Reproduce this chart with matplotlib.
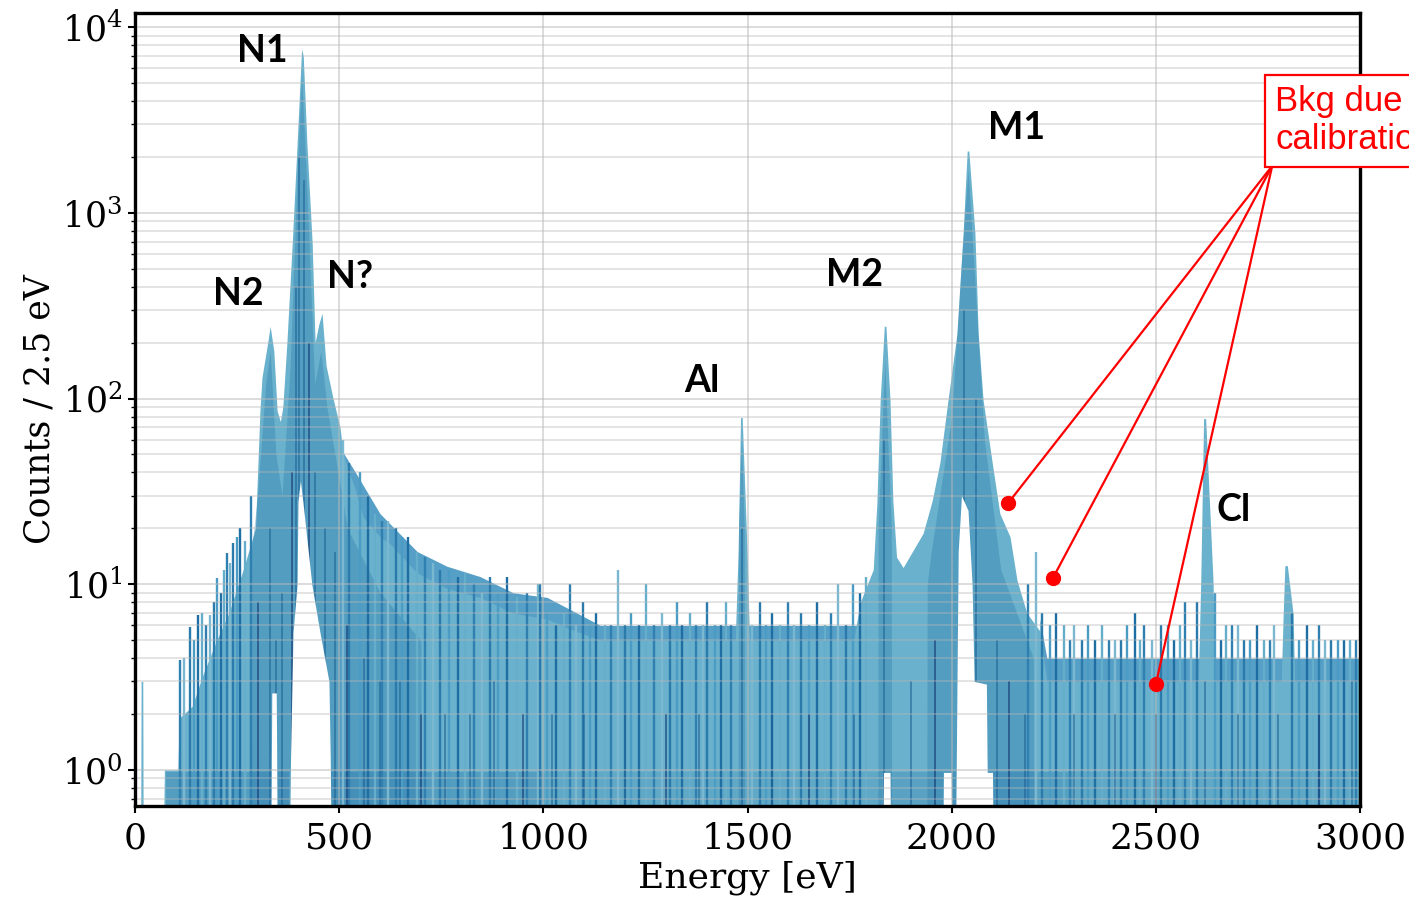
import matplotlib
matplotlib.use("Agg")
import matplotlib.pyplot as plt
from matplotlib.ticker import LogLocator, NullFormatter, MultipleLocator

YMIN = 0.5  # floor for the filled spectra (below the visible range)

# dense part of the overlaid spectra: energy [eV] vs counts / 2.5 eV
env_x = [0, 14, 15, 19, 20, 70, 72, 105, 108, 140, 165, 200, 230, 265, 295,
         306, 311, 325, 331, 340, 348, 356, 362, 372, 385, 397, 408, 412,
         421, 434, 441, 450, 458, 468, 485, 502, 510, 540, 559, 600, 625,
         691, 764, 845, 926, 1009, 1060, 1140, 1470, 1477, 1483, 1487, 1499,
         1505, 1760, 1776, 1808, 1817, 1825, 1835, 1839, 1849, 1856, 1865,
         1881, 1930, 1952, 1971, 1991, 2013, 2028, 2038, 2042, 2057, 2065,
         2077, 2101, 2118, 2143, 2160, 2184, 2216, 2233, 2604, 2610, 2617,
         2622, 2640, 2646, 2807, 2812, 2816, 2822, 2836, 2840, 3000]
env_top = [0.5, 0.5, 3, 3, 0.5, 0.5, 1.0, 1.0, 1.9, 2.2, 3.2, 5, 7, 12, 20,
           86, 130, 200, 245, 180, 86, 75, 90, 200, 680, 2350, 7600, 7000,
           2350, 680, 200, 250, 288, 150, 100, 70, 50, 32, 23, 18, 16.5,
           11.5, 9.5, 8.5, 7, 6.5, 5.8, 5, 5, 15, 79, 79, 15,
           5, 5, 8, 12, 28, 98, 245, 245, 98, 28, 14,
           12.3, 18.8, 28, 45, 98, 224, 776, 2150, 2150, 776, 224,
           98, 42.5, 24, 18, 10.5, 7, 5.6, 3, 3, 10.5, 78,
           78, 10.5, 3, 3, 7, 12.6, 12.6, 7, 3, 3]

# the next count level, mostly but not fully covered
shoulder_a_x = [489, 490, 540, 600, 691, 764, 845, 926, 1009, 1140, 1770, 1771]
shoulder_a_top = [0.5, 60, 40, 24, 15, 12.5, 11, 9, 8.5, 6, 6, 0.5]
shoulder_b_x = [2215, 2216, 2233, 3000]
shoulder_b_top = [0.5, 6.5, 4, 4]

# darker cores of the peaks
core_x = [279, 280, 300, 320, 331, 345, 360, 380, 395, 408, 420, 440, 455,
          470, 520, 600, 700, 701,
          1477, 1478, 1485, 1492, 1493,
          1819, 1820, 1836, 1852, 1853,
          1939, 1940, 1950, 2000, 2025, 2040, 2055, 2080, 2120, 2200, 2201]
core_top = [0.5, 12, 30, 120, 180, 50, 30, 150, 1200, 5500, 1500, 120, 180,
            90, 20, 9, 5, 0.5,
            0.5, 20, 60, 20, 0.5,
            0.5, 20, 160, 20, 0.5,
            0.5, 10, 15, 80, 600, 1700, 500, 60, 12, 4, 0.5]

# single-bin excursions above the dense part
spike_x = [110, 120, 135, 145, 154, 165, 175, 184, 193, 201, 210, 218, 225,
           232, 240, 250, 258, 269, 285,
           510, 525, 551, 570, 588, 605, 620, 640, 655, 669, 690, 710, 730,
           747, 770, 790, 808, 830, 850, 869, 890, 911, 935, 960, 987,
           992, 1010, 1030, 1050, 1065, 1080, 1097, 1115, 1130, 1150, 1165,
           1183, 1200, 1215, 1235, 1251, 1270, 1290, 1310, 1327, 1340, 1360,
           1375, 1390, 1401, 1420, 1435, 1447, 1460, 1510, 1531, 1545, 1560,
           1580, 1600, 1615, 1630, 1650, 1670, 1690, 1705, 1722, 1740, 1758,
           1775, 1790,
           2187, 2207, 2222, 2240, 2256, 2275, 2290, 2300, 2318, 2335, 2350,
           2368, 2385, 2400, 2415, 2430, 2449, 2460, 2472, 2490, 2512, 2530,
           2545, 2560, 2572, 2585, 2600, 2645, 2660, 2672, 2686, 2700, 2715,
           2730, 2748, 2765, 2780, 2790, 2833, 2850, 2870, 2885, 2900, 2915,
           2930, 2945, 2960, 2975, 2990]
spike_h = [3.9, 4, 5.9, 5, 6.8, 7, 6, 6.8, 8, 10.8, 9, 12, 14.7,
           13, 16.6, 18, 20, 17, 30,
           60, 45, 40, 30, 24, 22, 22, 20, 18, 18, 15, 14, 13,
           12, 12, 11, 11.5, 10, 9, 11, 9, 11, 8.5, 9, 10,
           10, 7, 6, 7, 10, 6, 8, 6, 7, 6, 6,
           12, 6, 7, 6, 10, 6, 7, 6, 8, 6, 7,
           6, 6, 8, 6, 6, 8, 6, 6, 8, 6, 7,
           6, 8, 6, 7, 6, 8, 6, 7, 10, 6, 10,
           9, 11,
           10, 15, 7, 6, 7, 6, 5, 6, 5, 6, 5,
           6, 5, 5, 5, 6, 7, 5, 6, 5, 6, 6,
           5, 6, 8, 5, 8, 9, 5, 6, 6, 6, 5,
           5, 6, 5, 5, 6, 7, 5, 6, 5, 6, 5,
           5, 5, 5, 5, 5]

# dark streaks inside the dense part
streak_x = [300, 330, 345, 360, 385, 395, 402, 415, 425, 440, 465, 490, 520,
            560, 600, 650, 700, 760, 820, 880, 950, 1020, 1100, 1200, 1300,
            1380, 1486, 1560, 1650, 1760, 1835, 1900, 1960, 2030, 2060, 2110,
            2140, 2180, 2300, 2400, 2500, 2620, 2700, 2800, 2900, 2980]
streak_h = [8, 20, 5, 9, 40, 400, 2000, 1500, 200, 40, 20, 15, 6,
            4, 3, 3, 2, 2, 2, 3, 2, 2, 2, 2, 2,
            2, 20, 2, 2, 2, 60, 3, 5, 300, 100, 5,
            3, 2, 2, 2, 2, 3, 2, 2, 2, 3]

# empty regions below the peaks (nothing reaches down there)
gap_n2_x = [333, 335, 346, 348]
gap_n2_top = [0.5, 2.6, 2.6, 0.5]
gap_n1_x = [379, 381, 387, 397, 399, 405, 411, 433, 453, 475, 478, 480]
gap_n1_top = [0.5, 1.2, 5.5, 10, 28, 36, 28, 10, 5.5, 3, 1.2, 0.5]
gap_m2_x = [1832, 1833, 1849, 1850]
gap_m2_top = [0.5, 0.97, 0.97, 0.5]
gap_mid_x = [1979, 1980, 1999, 2000]
gap_mid_top = [0.5, 0.97, 0.97, 0.5]
gap_m1_x = [2010, 2013, 2016, 2024, 2040, 2050, 2055, 2085, 2087, 2100, 2101]
gap_m1_top = [0.5, 2.9, 15, 30, 25, 10, 3.0, 2.9, 0.97, 0.97, 0.5]

peak_labels = ["N1", "N2", "N?", "Al", "M2", "M1", "Cl"]
peak_label_x = [311, 252, 527, 1389, 1763, 2158, 2691]
peak_label_y = [7430, 367, 453, 125, 464, 2865, 25]

bkg_x = [2138, 2248, 2500]
bkg_y = [27.3, 10.8, 2.9]

LIGHT = "#69b1cc"
SHOULDER = "#569fc6"
MID = "#2a78aa"
DARK = "#1a5f94"
NAVY = "#0c2f6c"

plt.rcParams["font.family"] = "DejaVu Serif"
plt.rcParams["mathtext.fontset"] = "dejavuserif"

fig = plt.figure(figsize=(14.09, 8.99), dpi=100)
ax = fig.add_axes([135 / 1409, 1 - 806 / 899, 1225 / 1409, 793 / 899])
ax.set_yscale("log")

ax.fill_between(shoulder_a_x, YMIN, shoulder_a_top, color=SHOULDER, lw=0, zorder=0.9)
ax.fill_between(shoulder_b_x, YMIN, shoulder_b_top, color=SHOULDER, lw=0, zorder=0.9)
ax.fill_between(env_x, YMIN, env_top, color=LIGHT, lw=0, zorder=1)
ax.fill_between(core_x, YMIN, core_top, color=MID, alpha=0.35, lw=0, zorder=1.1)
# low-count rows look darker where many spectra overlap
for lo, hi, a in [(75, 378, 0.35), (480, 1000, 0.35), (1000, 1830, 0.15),
                  (1850, 1978, 0.25), (2000, 2010, 0.25), (2100, 2300, 0.3),
                  (2300, 3000, 0.15)]:
    ax.fill_between([lo, hi], YMIN, 0.98, color=MID, alpha=a, lw=0, zorder=1.2)

# single bins drawn over the fills: gives the striped texture of the overlay
palette = ["#2f80b1", "#7ab8d2", "#2a7bab", "#4b9cc4", "#1f6ea3", "#65aecb"]
spike_cols = [palette[i % len(palette)] for i in range(len(spike_x))]
ax.vlines(spike_x, YMIN, spike_h, colors=spike_cols, lw=1.7, zorder=1.5)

streak_cols = [NAVY if i % 4 == 0 else DARK for i in range(len(streak_x))]
ax.vlines(streak_x, YMIN, streak_h, colors=streak_cols, lw=1.1, alpha=0.7, zorder=1.6)

for gx, gt in [(gap_n2_x, gap_n2_top), (gap_n1_x, gap_n1_top),
               (gap_m2_x, gap_m2_top), (gap_mid_x, gap_mid_top),
               (gap_m1_x, gap_m1_top)]:
    ax.fill_between(gx, YMIN, gt, color="white", lw=0, zorder=1.8)

ax.set_xlim(0, 3000)
ax.set_ylim(0.64, 11900)
ax.xaxis.set_major_locator(MultipleLocator(500))
ax.yaxis.set_major_locator(LogLocator(base=10, numticks=10))
ax.yaxis.set_minor_locator(LogLocator(base=10, subs=range(2, 10), numticks=20))
ax.yaxis.set_minor_formatter(NullFormatter())

ax.set_axisbelow(False)
ax.grid(which="major", color="#b8b8b8", alpha=0.5, lw=1.4)
ax.grid(which="minor", axis="y", color="#b8b8b8", alpha=0.45, lw=1.2)

for s in ax.spines.values():
    s.set_linewidth(2.4)
    s.set_zorder(5)
ax.tick_params(axis="both", which="major", direction="out", length=5, width=1.5)
ax.tick_params(axis="y", which="minor", direction="out", length=3, width=1)
ax.tick_params(axis="x", labelsize=26, pad=6)
ax.tick_params(axis="y", labelsize=25, pad=4)

ax.set_xlabel("Energy [eV]", fontsize=26, labelpad=4)
ax.set_ylabel("Counts / 2.5 eV", fontsize=25, labelpad=4)

for lab, x, y in zip(peak_labels, peak_label_x, peak_label_y):
    ax.text(x, y, lab, fontsize=27, fontweight="bold", family="Lato",
            ha="center", va="center", zorder=4)

# annotation for the calibration background (the box runs off the right edge,
# as in the original slide)
x0, y0 = 2785, 1789
for x, y in zip(bkg_x, bkg_y):
    ax.plot([x0, x], [y0, y], color="#ff0000", lw=1.6, zorder=6, clip_on=False)
ax.plot(bkg_x, bkg_y, "o", color="#ff0000", ms=10, zorder=6)
ax.text(2792, 3125, "Bkg due to\ncalibration", color="#ff0000", fontsize=25,
        family="Liberation Sans", ha="left", va="center", zorder=7,
        bbox=dict(boxstyle="square,pad=0.3", fc="white", ec="#ff0000", lw=1.6))

fig.savefig("out.png", dpi=100)
